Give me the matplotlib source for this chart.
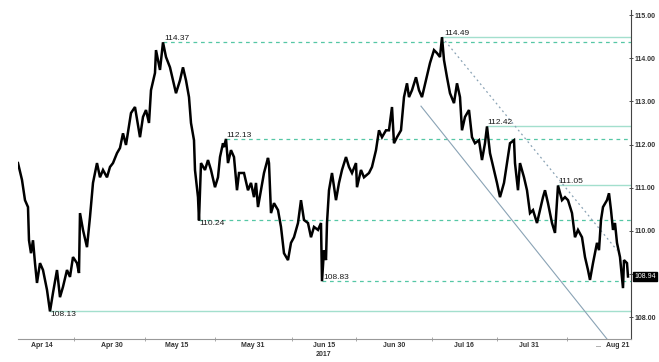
import numpy as np
import matplotlib
matplotlib.use("Agg")
import matplotlib.pyplot as plt
from matplotlib.transforms import blended_transform_factory

plt.rcParams["font.family"] = ["Liberation Sans", "DejaVu Sans"]

# ---- data (bar index, price) ----
bar = [0, 4, 7, 10, 11, 13, 15, 17, 19, 22, 25, 29, 32, 35, 39, 42, 45, 49, 52, 55,
       59, 61, 62, 65, 69, 72, 75, 79, 82, 85, 89, 92, 95, 99, 102,
       105, 108, 113, 117, 122, 125, 128, 131, 133, 137, 138, 142, 145, 148, 152, 155,
       158, 162, 165, 168, 171, 173, 176, 177, 180, 181, 183, 187, 190, 193, 197, 200,
       202, 205,
       206, 208, 210, 213, 216, 219, 221, 226, 230, 233, 236, 238, 240, 243, 246, 250,
       251, 253, 256, 260, 263, 266, 270, 273, 276, 280, 283, 286, 290, 293, 296, 300,
       303, 304, 306, 308,
       309, 311, 314, 318, 321, 324, 328, 331, 334, 338, 339, 343, 346, 351, 354, 358,
       361, 364, 368, 371, 374, 376, 379, 383, 386, 389, 391, 394, 398, 401, 404, 408,
       411,
       412, 416, 419, 422, 424, 426, 429, 432, 436, 439, 442, 444, 447, 451, 454, 457,
       461, 464, 467, 469, 472, 476, 479, 482, 486, 489, 492, 496, 497, 500, 502, 506,
       509, 512,
       515, 519, 522, 525, 527, 530, 534, 537, 540, 544, 547, 550, 554, 557, 560, 564,
       567, 570, 572, 575, 579, 581, 583, 585, 589, 591, 593, 595, 597, 599, 602, 605,
       606, 609, 610]
price = [111.57, 111.18, 110.71, 110.55, 109.78, 109.48, 109.78, 109.25, 108.79, 109.25,
         109.09, 108.63, 108.13, 108.56, 109.09, 108.46, 108.70, 109.09, 108.93, 109.39,
         109.25, 109.02, 110.41, 110.02, 109.62, 110.32, 111.11, 111.57, 111.24, 111.41,
         111.24, 111.48, 111.57, 111.80, 111.92,
         112.26, 111.99, 112.73, 112.87, 112.17, 112.64, 112.80, 112.50, 113.26, 113.66,
         114.19, 113.73, 114.37, 114.03, 113.79, 113.49, 113.19, 113.49, 113.79, 113.49,
         113.10, 112.50, 112.10, 111.41, 110.78, 110.24, 111.57, 111.41, 111.64, 111.41,
         111.01, 111.24, 111.71, 112.03,
         111.94, 112.13, 111.57, 111.87, 111.71, 110.94, 111.34, 111.34, 110.94, 111.11,
         110.78, 111.11, 110.55, 110.94, 111.34, 111.69, 111.57, 110.41, 110.64, 110.48,
         110.09, 109.48, 109.32, 109.72, 109.85, 110.18, 110.71, 110.25, 110.18, 109.85,
         110.09, 110.02, 110.18, 108.83, 109.55, 109.32,
         110.18, 110.94, 111.34, 110.71, 111.11, 111.41, 111.71, 111.48, 111.34, 111.57,
         111.01, 111.41, 111.24, 111.34, 111.48, 111.87, 112.33, 112.17, 112.33, 112.33,
         112.87, 112.03, 112.17, 112.33, 113.10, 113.42, 113.10, 113.26, 113.56, 113.26,
         113.10, 113.49, 113.79,
         113.89, 114.19, 114.12, 114.03, 114.49, 113.96, 113.56, 113.19, 112.96, 113.42,
         113.10, 112.33, 112.64, 112.80, 112.17, 112.03, 112.10, 111.64, 112.03, 112.42,
         111.80, 111.41, 111.11, 110.78, 111.11, 111.57, 112.03, 112.10, 111.57, 110.94,
         111.57, 111.24, 110.94, 110.41,
         110.48, 110.18, 110.48, 110.78, 110.94, 110.64, 110.18, 109.95, 111.05, 110.71,
         110.78, 110.71, 110.41, 109.85, 110.02, 109.85, 109.39, 109.09, 108.86, 109.25,
         109.72, 109.55, 110.25, 110.55, 110.71, 110.87, 110.48, 110.02, 110.18, 109.72,
         109.39, 108.67, 109.32, 109.25, 108.94]

# support / resistance levels: (start bar, level)
dashed_start = [145, 208, 181, 304]
dashed_level = [114.37, 112.13, 110.24, 108.83]
solid_start = [424, 469, 540, 32]
solid_level = [114.49, 112.42, 111.05, 108.13]

# trend lines (bar, price endpoints)
dotted_trend_x = [424, 599]
dotted_trend_y = [114.49, 109.55]
solid_trend_x = [403, 589]
solid_trend_y = [112.89, 107.49]

tick_pos = [24, 94, 159, 235, 306, 376, 446, 511, 581, 600]
tick_lab = ["Apr 14", "Apr 30", "May 15", "May 31", "Jun 15", "Jun 30", "Jul 16",
            "Jul 31", "...", "Aug 21"]
minor_pos = [56, 127, 197, 274, 338, 414, 479, 549]
y_ticks = [108, 109, 110, 111, 112, 113, 114, 115]
last_price = 108.94

dash_col = "#55c7a5"
solid_col = "#a3dfcd"
trend_col = "#8aa3b5"

fig = plt.figure(figsize=(6.59, 3.62), dpi=100)
ax = fig.add_axes([0.0273, 0.0635, 0.9302, 0.9089])

ax.plot(bar, price, color="black", lw=1.8, solid_joinstyle="miter", zorder=3)

xmax = 613
for s, lv in zip(dashed_start, dashed_level):
    ax.plot([s, xmax], [lv, lv], color=dash_col, lw=0.9, ls=(0, (3, 3)), zorder=2)
for s, lv in zip(solid_start, solid_level):
    ax.plot([s, xmax], [lv, lv], color=solid_col, lw=1.0, zorder=2)

ax.plot(dotted_trend_x, dotted_trend_y, color=trend_col, lw=0.9, ls=(0, (1.5, 2.5)), zorder=2)
ax.plot(solid_trend_x, solid_trend_y, color=trend_col, lw=0.8, zorder=2)

# level labels
lab_kw = dict(fontsize=6, color="#1a1a1a", zorder=4)
ax.text(146, 114.37, "114.37", va="bottom", ha="left", **lab_kw)
ax.text(208, 112.13, "112.13", va="bottom", ha="left", **lab_kw)
ax.text(181, 110.24, "110.24", va="top", ha="left", **lab_kw)
ax.text(305, 108.83, "108.83", va="bottom", ha="left", **lab_kw)
ax.text(426, 114.49, "114.49", va="bottom", ha="left", **lab_kw)
ax.text(469, 112.42, "112.42", va="bottom", ha="left", **lab_kw)
ax.text(540, 111.05, "111.05", va="bottom", ha="left", **lab_kw)
ax.text(32, 108.13, "108.13", va="top", ha="left", **lab_kw)

ax.set_xlim(0, xmax)
ax.set_ylim(107.49, 115.12)

for side in ["top", "left"]:
    ax.spines[side].set_visible(False)
ax.spines["bottom"].set_color("#999999")
ax.spines["right"].set_color("#444444")
ax.spines["bottom"].set_linewidth(0.8)
ax.spines["right"].set_linewidth(0.8)

ax.yaxis.tick_right()
ax.set_yticks(y_ticks)
# 109.00 sits under the last-price tag
ax.set_yticklabels(["" if v == 109 else f"{v:.2f}" for v in y_ticks], fontweight="bold")
ax.tick_params(axis="y", labelsize=5, length=3, width=0.6, pad=1, colors="#333333",
               direction="inout")

ax.set_xticks(tick_pos)
ax.set_xticklabels(tick_lab, fontweight="bold")
ax.set_xticks(minor_pos, minor=True)
ax.tick_params(axis="x", which="major", length=0, labelsize=5, pad=2, colors="#333333")
ax.tick_params(axis="x", which="minor", length=3, width=0.6, direction="inout",
               colors="#999999")

trans = blended_transform_factory(ax.transData, ax.transAxes)
ax.text(306, -0.035, "2017", transform=trans, ha="center", va="top", fontsize=5,
        fontweight="bold", color="#333333")

# last price tag
ax.annotate(f"{last_price:.2f}", xy=(1.0, last_price),
            xycoords=("axes fraction", "data"), xytext=(2.5, 0),
            textcoords="offset points", ha="left", va="center", fontsize=5,
            color="white", annotation_clip=False,
            bbox=dict(boxstyle="square,pad=0.2", fc="black", ec="black"))

fig.savefig("out.png", dpi=100)
